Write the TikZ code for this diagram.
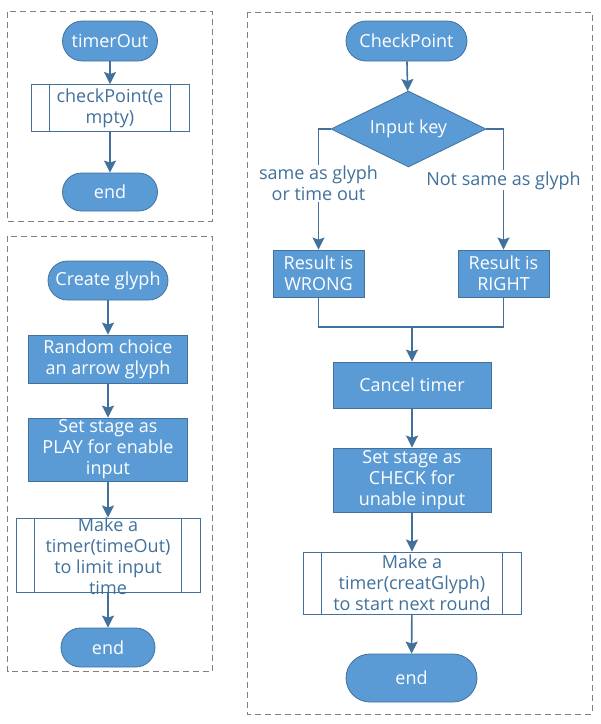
\documentclass[tikz,border=0pt]{standalone}
\usepackage{fontspec}
\setmainfont{Open Sans}
\usetikzlibrary{arrows.meta,shapes.geometric}
\definecolor{fillblue}{HTML}{5B9BD5}
\definecolor{edgeblue}{HTML}{41719C}
\definecolor{panelgray}{HTML}{808080}
\tikzset{
  panel/.style={draw=panelgray, line width=0.9pt, dash pattern=on 6pt off 4pt},
  txt/.style={font=\fontsize{18}{21}\selectfont, align=center, inner sep=0pt},
  term/.style={txt, draw=edgeblue, fill=fillblue, text=white, line width=0.8pt, rounded corners=#1, minimum height=2*#1},
  proc/.style={txt, draw=edgeblue, fill=fillblue, text=white, line width=0.8pt},
  subproc/.style={draw=edgeblue, fill=white, line width=0.9pt, inner sep=0pt},
  subtext/.style={txt, text=edgeblue},
  decision/.style={txt, diamond, shape aspect=2.5, inner sep=0pt, draw=edgeblue, fill=fillblue, text=white, line width=0.8pt},
  conn/.style={draw=edgeblue, line width=1.6pt, -{Stealth[length=12pt,width=12pt,inset=2pt]}},
  plain/.style={draw=edgeblue, line width=1.6pt},
  lbl/.style={txt, text=edgeblue, fill=white, inner sep=1pt}
}
\begin{document}
\begin{tikzpicture}[x=1pt,y=-1pt]
\useasboundingbox (0,0) rectangle (601,724);
% panels
\draw[panel] (7.5,11.5) rectangle (212,221);
\draw[panel] (7.5,236) rectangle (212,671);
\draw[panel] (247,12) rectangle (592,714);

% ---- panel 1
\node[term=20, minimum width=95] (to) at (110,41) {timerOut};
\node[subproc, minimum width=158, minimum height=47] (cpe) at (110,108) {};
\draw[edgeblue, line width=0.9pt] ([xshift=19pt]cpe.north west) -- ([xshift=19pt]cpe.south west)
  ([xshift=-19pt]cpe.north east) -- ([xshift=-19pt]cpe.south east);
\node[subtext] at (cpe) {checkPoint(e\\mpty)};
\node[term=19, minimum width=95] (end1) at (110,192) {end};
\draw[conn] (to) -- (cpe);
\draw[conn] (cpe) -- (end1);

% ---- panel 2
\node[term=19.5, minimum width=120] (cg) at (108,280.5) {Create glyph};
\node[proc, minimum width=159, minimum height=48] (rc) at (108,359) {Random choice\\an arrow glyph};
\node[proc, minimum width=159, minimum height=63] (ss) at (108,449.5) {Set stage as\\PLAY for enable\\input};
\node[subproc, minimum width=184, minimum height=74] (mt) at (108,555) {};
\draw[edgeblue, line width=0.9pt] ([xshift=19pt]mt.north west) -- ([xshift=19pt]mt.south west)
  ([xshift=-19pt]mt.north east) -- ([xshift=-19pt]mt.south east);
\node[subtext] at ([yshift=-1pt]mt.center) {Make a\\timer(timeOut)\\to limit input\\time};
\node[term=19.5, minimum width=94] (end2) at (108,647.5) {end};
\draw[conn] (cg) -- (rc);
\draw[conn] (rc) -- (ss);
\draw[conn] (ss) -- (mt);
\draw[conn] (mt) -- (end2);

% ---- panel 3
\node[term=20, minimum width=121] (ck) at (406.5,41) {CheckPoint};
\node[decision, minimum width=155, minimum height=76] (ik) at (408.5,129) {Input key};
\node[proc, minimum width=91, minimum height=47] (wr) at (318.5,273.5) {Result is\\WRONG};
\node[proc, minimum width=91, minimum height=47] (rt) at (503.5,273.5) {Result is\\RIGHT};
\coordinate (mg) at (412,327);
\node[proc, minimum width=158, minimum height=46] (ct) at (412,385) {Cancel timer};
\node[proc, minimum width=158, minimum height=64] (sc) at (412,480) {Set stage as\\CHECK for\\unable input};
\node[subproc, minimum width=218, minimum height=62] (mc) at (412,583) {};
\draw[edgeblue, line width=0.9pt] ([xshift=19pt]mc.north west) -- ([xshift=19pt]mc.south west)
  ([xshift=-19pt]mc.north east) -- ([xshift=-19pt]mc.south east);
\node[subtext] at (mc) {Make a\\timer(creatGlyph)\\to start next round};
\node[term=24, minimum width=131] (end3) at (411.5,678) {end};

\draw[conn] (ck) -- (ik);
\draw[conn] (ik.west) -| node[lbl, pos=0.725] {same as glyph\\or time out} (wr.north);
\draw[conn] (ik.east) -| node[lbl, pos=0.713] {Not same as glyph} (rt.north);
\draw[plain] (wr.south) |- (mg) -| (rt.south);
\draw[conn] (mg) -- (ct);
\draw[conn] (ct) -- (sc);
\draw[conn] (sc) -- (mc);
\draw[conn] (mc) -- (end3);
\end{tikzpicture}
\end{document}
